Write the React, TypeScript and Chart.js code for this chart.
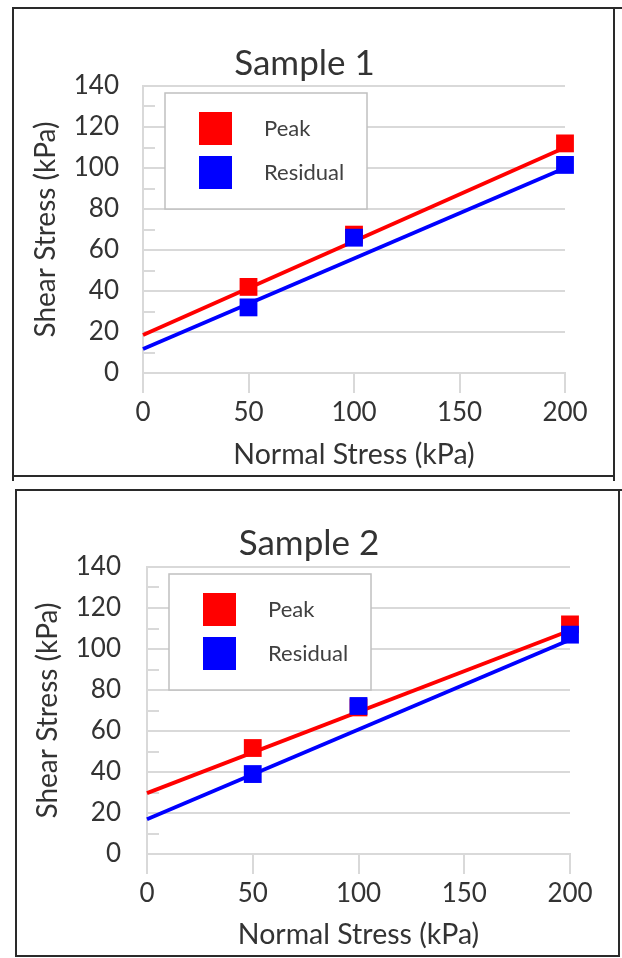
import React, { useEffect, useRef } from 'react';
import { Chart, registerables } from 'chart.js';

Chart.register(...registerables);

// Direct shear results: normal stress (kPa) applied in each test
const normalStress = [50, 100, 200];
// Failure envelope end points (normal stress, kPa)
const envelopeX = [0, 200];

// Sample 1 shear stress (kPa)
const sample1Peak = [42, 67.5, 112];
const sample1Residual = [32, 66, 101.5];
const sample1PeakEnvelope = [18.5, 110];
const sample1ResidualEnvelope = [11.7, 100];

// Sample 2 shear stress (kPa)
const sample2Peak = [51.7, 71.5, 112];
const sample2Residual = [39, 72.2, 107];
const sample2PeakEnvelope = [29.7, 109];
const sample2ResidualEnvelope = [17, 104.5];

// Axis ticks
const xTicks = [0, 50, 100, 150, 200];
const yTicks = [0, 20, 40, 60, 80, 100, 120, 140];
const yMinorTicks = [10, 30, 50, 70, 90, 110, 130];

const seriesNames = ['Peak', 'Residual'];
const seriesColors = ['#ff0000', '#0000ff'];

const FONT = 'Lato, "Open Sans", sans-serif';
const GRID = '#d9d9d9';
const TEXT = '#333333';

const minorTicksPlugin = {
  id: 'minorTicks',
  beforeDatasetsDraw(chart: any) {
    const { ctx, chartArea, scales } = chart;
    const y = scales.y;
    ctx.save();
    ctx.strokeStyle = GRID;
    ctx.lineWidth = 2;
    for (const v of yMinorTicks) {
      const py = Math.round(y.getPixelForValue(v));
      ctx.beginPath();
      ctx.moveTo(chartArea.left, py);
      ctx.lineTo(chartArea.left + 12, py);
      ctx.stroke();
    }
    ctx.restore();
  },
};

const legendBoxPlugin = {
  id: 'legendBox',
  afterDatasetsDraw(chart: any) {
    const { ctx, chartArea } = chart;
    const bx = chartArea.left + 22;
    const by = chartArea.top + 7;
    const bw = 202;
    const bh = 116;
    ctx.save();
    ctx.fillStyle = '#ffffff';
    ctx.fillRect(bx, by, bw, bh);
    ctx.strokeStyle = '#c0c0c0';
    ctx.lineWidth = 1.5;
    ctx.strokeRect(bx, by, bw, bh);
    ctx.font = `22px ${FONT}`;
    ctx.textBaseline = 'middle';
    ctx.textAlign = 'left';
    seriesNames.forEach((name, i) => {
      const sy = by + 19 + i * 44;
      ctx.fillStyle = seriesColors[i];
      ctx.fillRect(bx + 34, sy, 33, 33);
      ctx.fillStyle = '#404040';
      ctx.fillText(name, bx + 99, sy + 16.5);
    });
    ctx.restore();
  },
};

type PanelSpec = {
  title: string;
  peak: number[];
  residual: number[];
  peakEnvelope: number[];
  residualEnvelope: number[];
  frame: { left: number; top: number; width: number; height: number };
  padLeft: number;
  padRight: number;
  yAxisWidth: number;
  xAxisHeight: number;
  titlePad: { top: number; bottom: number };
  yTitlePad: number;
  yTickPad: number;
};

const panels: PanelSpec[] = [
  {
    title: 'Sample 1',
    peak: sample1Peak,
    residual: sample1Residual,
    peakEnvelope: sample1PeakEnvelope,
    residualEnvelope: sample1ResidualEnvelope,
    frame: { left: 12, top: 7, width: 603, height: 470 },
    padLeft: 30,
    padRight: 48,
    yAxisWidth: 99,
    xAxisHeight: 102,
    titlePad: { top: 34, bottom: 1 },
    yTitlePad: -14.8,
    yTickPad: 24,
  },
  {
    title: 'Sample 2',
    peak: sample2Peak,
    residual: sample2Residual,
    peakEnvelope: sample2PeakEnvelope,
    residualEnvelope: sample2ResidualEnvelope,
    frame: { left: 15, top: 489, width: 605, height: 468 },
    padLeft: 31,
    padRight: 48,
    yAxisWidth: 99,
    xAxisHeight: 101,
    titlePad: { top: 32, bottom: 2 },
    yTitlePad: -16.8,
    yTickPad: 26,
  },
];

function ShearPanel({ spec }: { spec: PanelSpec }) {
  const ref = useRef<HTMLCanvasElement>(null);
  const cw = spec.frame.width - 4;
  const ch = spec.frame.height - 4;

  useEffect(() => {
    const points = (vals: number[]) => normalStress.map((x, i) => ({ x, y: vals[i] }));
    const envelope = (vals: number[]) => envelopeX.map((x, i) => ({ x, y: vals[i] }));

    const chart = new Chart(ref.current as HTMLCanvasElement, {
      type: 'scatter',
      data: {
        datasets: [
          {
            label: seriesNames[1],
            data: points(spec.residual),
            backgroundColor: seriesColors[1],
            pointStyle: 'rect',
            pointRadius: 12.6,
            pointBorderWidth: 0,
            order: 0,
            clip: false,
          },
          {
            label: seriesNames[0],
            data: points(spec.peak),
            backgroundColor: seriesColors[0],
            pointStyle: 'rect',
            pointRadius: 12.6,
            pointBorderWidth: 0,
            order: 1,
            clip: false,
          },
          {
            label: seriesNames[1] + ' envelope',
            data: envelope(spec.residualEnvelope),
            showLine: true,
            borderColor: seriesColors[1],
            borderWidth: 3.8,
            pointRadius: 0,
            order: 2,
            clip: false,
          },
          {
            label: seriesNames[0] + ' envelope',
            data: envelope(spec.peakEnvelope),
            showLine: true,
            borderColor: seriesColors[0],
            borderWidth: 3.8,
            pointRadius: 0,
            order: 3,
            clip: false,
          },
        ] as any,
      },
      options: {
        animation: false,
        responsive: false,
        events: [],
        layout: { padding: { left: spec.padLeft, right: spec.padRight, top: 0, bottom: 0 } },
        plugins: {
          legend: { display: false },
          tooltip: { enabled: false },
          title: {
            display: true,
            text: spec.title,
            color: TEXT,
            font: { family: FONT, size: 35, weight: 'normal', lineHeight: 1.2 },
            padding: spec.titlePad,
          },
        },
        scales: {
          x: {
            type: 'linear',
            min: 0,
            max: 200,
            afterBuildTicks: (s: any) => {
              s.ticks = xTicks.map((value) => ({ value }));
            },
            afterFit: (s: any) => {
              s.height = spec.xAxisHeight;
            },
            grid: {
              drawOnChartArea: false,
              drawTicks: true,
              tickLength: 20,
              color: GRID,
              lineWidth: 2,
            },
            border: { display: true, color: GRID, width: 2 },
            ticks: {
              color: TEXT,
              padding: 4.4,
              maxRotation: 0,
              font: { family: FONT, size: 26, lineHeight: 1.2 },
            },
            title: {
              display: true,
              text: 'Normal Stress (kPa)',
              color: TEXT,
              font: { family: FONT, size: 28.5, lineHeight: 1.2 },
              padding: { top: 0, bottom: 3 },
            },
          },
          y: {
            type: 'linear',
            min: 0,
            max: 140,
            afterBuildTicks: (s: any) => {
              s.ticks = yTicks.map((value) => ({ value }));
            },
            afterFit: (s: any) => {
              s.width = spec.yAxisWidth;
            },
            grid: {
              drawTicks: false,
              color: GRID,
              lineWidth: 2,
            },
            border: { display: true, color: GRID, width: 2 },
            ticks: {
              color: TEXT,
              padding: spec.yTickPad,
              font: { family: FONT, size: 26, lineHeight: 1.2 },
            },
            title: {
              display: true,
              text: 'Shear Stress (kPa)',
              color: TEXT,
              font: { family: FONT, size: 28, lineHeight: 1.2 },
              padding: { top: spec.yTitlePad, bottom: 0 },
            },
          },
        },
      } as any,
      plugins: [minorTicksPlugin, legendBoxPlugin],
    });
    return () => chart.destroy();
  }, [spec]);

  return (
    <div
      style={{
        position: 'absolute',
        left: spec.frame.left,
        top: spec.frame.top,
        width: spec.frame.width,
        height: spec.frame.height,
        border: '2px solid #2a2a2a',
        boxSizing: 'border-box',
        background: '#ffffff',
      }}
    >
      <canvas ref={ref} width={cw} height={ch} style={{ display: 'block', width: cw, height: ch }} />
    </div>
  );
}

export default function App() {
  return (
    <div style={{ position: 'absolute', left: 0, top: 0, width: 622, height: 958, background: '#ffffff', overflow: 'hidden' }}>
      {panels.map((p) => (
        <ShearPanel key={p.title} spec={p} />
      ))}
      {/* frame line stubs past the panel corners */}
      <div style={{ position: 'absolute', left: 615, top: 7, width: 7, height: 2, background: '#2a2a2a' }} />
      <div style={{ position: 'absolute', left: 12, top: 477, width: 2, height: 4, background: '#2a2a2a' }} />
      <div style={{ position: 'absolute', left: 613, top: 477, width: 2, height: 4, background: '#2a2a2a' }} />
      <div style={{ position: 'absolute', left: 620, top: 489, width: 2, height: 2, background: '#2a2a2a' }} />
    </div>
  );
}
